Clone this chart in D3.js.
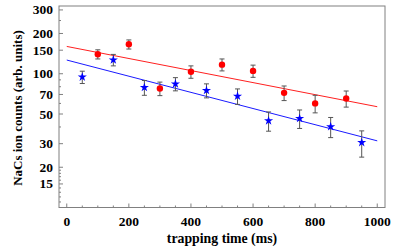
<!DOCTYPE html>
<html><head><meta charset="utf-8">
<script src="https://cdn.jsdelivr.net/npm/d3@7"></script>
<style>body{margin:0;background:#fff;}svg{display:block;}</style>
</head><body>
<script>
// Data
const redTimes = [100, 200, 300, 400, 500, 600, 700, 800, 900];
const redCounts = [140, 166, 77.6, 103.5, 117, 105, 72, 60, 65.3];
const redErrors = [11, 13, 9, 11, 12, 11, 9, 9, 9];
const blueTimes = [50, 150, 250, 350, 450, 550, 650, 750, 850, 950];
const blueCounts = [94.5, 127, 79, 84, 75, 68, 44.5, 46.3, 40.2, 30.6];
const blueErrors = [10, 12.5, 10, 9.5, 9, 9, 7.3, 7.3, 6.9, 6.8];
const redFit = [[0, 160], [1000, 56.7]];
const blueFit = [[0, 126.6], [1000, 31.5]];
const xTicks = [0, 200, 400, 600, 800, 1000];
const xMinor = d3.range(0, 1001, 50);
const yTicks = [15, 20, 30, 50, 70, 100, 150, 200, 300];
const yMinor = [11,12,13,14,15,16,17,18,19,20,30,40,50,60,70,80,90,100,150,200,250,300];

const W = 403, H = 249;
const svg = d3.select("body").append("svg").attr("width", W).attr("height", H);
const L = 59, R = 385, T = 6, B = 207.5;
const x = d3.scaleLinear().domain([-25, 1025]).range([L, R]);
const y = d3.scaleLog().domain([10, 321]).range([B, T]);
const axisCol = "#808080";
const font = "'Liberation Serif', 'Times New Roman', serif";

// frame
svg.append("rect").attr("x", L).attr("y", T).attr("width", R - L).attr("height", B - T)
  .attr("fill", "none").attr("stroke", axisCol).attr("stroke-width", 1);

// x axis ticks (inward)
const gx = svg.append("g");
gx.selectAll("line.mi").data(xMinor).join("line")
  .attr("x1", d => x(d)).attr("x2", d => x(d))
  .attr("y1", B).attr("y2", d => B - (d % 200 === 0 ? 4 : 2))
  .attr("stroke", axisCol);
gx.selectAll("text").data(xTicks).join("text")
  .attr("x", d => x(d)).attr("y", 226)
  .attr("text-anchor", "middle").attr("font-family", font).attr("font-weight", "bold")
  .attr("font-size", 13.5).text(d => d);

// y axis ticks
const gy = svg.append("g");
gy.selectAll("line").data(yMinor).join("line")
  .attr("x1", L).attr("x2", d => L + (yTicks.includes(d) ? 4 : 2))
  .attr("y1", d => y(d)).attr("y2", d => y(d))
  .attr("stroke", axisCol);
gy.selectAll("text").data(yTicks).join("text")
  .attr("x", 53).attr("y", d => y(d) + 4.5)
  .attr("text-anchor", "end").attr("font-family", font).attr("font-weight", "bold")
  .attr("font-size", 13.5).text(d => d);

// titles
svg.append("text").attr("x", 222).attr("y", 243).attr("text-anchor", "middle")
  .attr("font-family", font).attr("font-weight", "bold").attr("font-size", 13.8)
  .text("trapping time (ms)");
svg.append("text").attr("transform", "translate(21.5,108) rotate(-90)").attr("text-anchor", "middle")
  .attr("font-family", font).attr("font-weight", "bold").attr("font-size", 13)
  .text("NaCs ion counts (arb. units)");

// fit lines
const line = d3.line().x(d => x(d[0])).y(d => y(d[1]));
svg.append("path").attr("d", line(redFit)).attr("stroke", "#ff2020").attr("fill", "none").attr("stroke-width", 1);
svg.append("path").attr("d", line(blueFit)).attr("stroke", "#1a1aff").attr("fill", "none").attr("stroke-width", 1);

function errbars(times, vals, errs) {
  const g = svg.append("g").attr("stroke", "#555").attr("stroke-width", 1);
  times.forEach((t, i) => {
    const cx = x(t), y1 = y(vals[i] + errs[i]), y2 = y(vals[i] - errs[i]);
    g.append("line").attr("x1", cx).attr("x2", cx).attr("y1", y1).attr("y2", y2);
    g.append("line").attr("x1", cx - 2.5).attr("x2", cx + 2.5).attr("y1", y1).attr("y2", y1);
    g.append("line").attr("x1", cx - 2.5).attr("x2", cx + 2.5).attr("y1", y2).attr("y2", y2);
  });
}
errbars(redTimes, redCounts, redErrors);
errbars(blueTimes, blueCounts, blueErrors);

// markers
svg.append("g").selectAll("circle").data(redTimes).join("circle")
  .attr("cx", d => x(d)).attr("cy", (d, i) => y(redCounts[i])).attr("r", 3.2)
  .attr("fill", "#ff0000");
const star = d3.symbol().type(d3.symbolStar).size(26);
svg.append("g").selectAll("path").data(blueTimes).join("path")
  .attr("transform", (d, i) => `translate(${x(d)},${y(blueCounts[i])})`)
  .attr("d", star).attr("fill", "#0000ff");
</script>
</body></html>
